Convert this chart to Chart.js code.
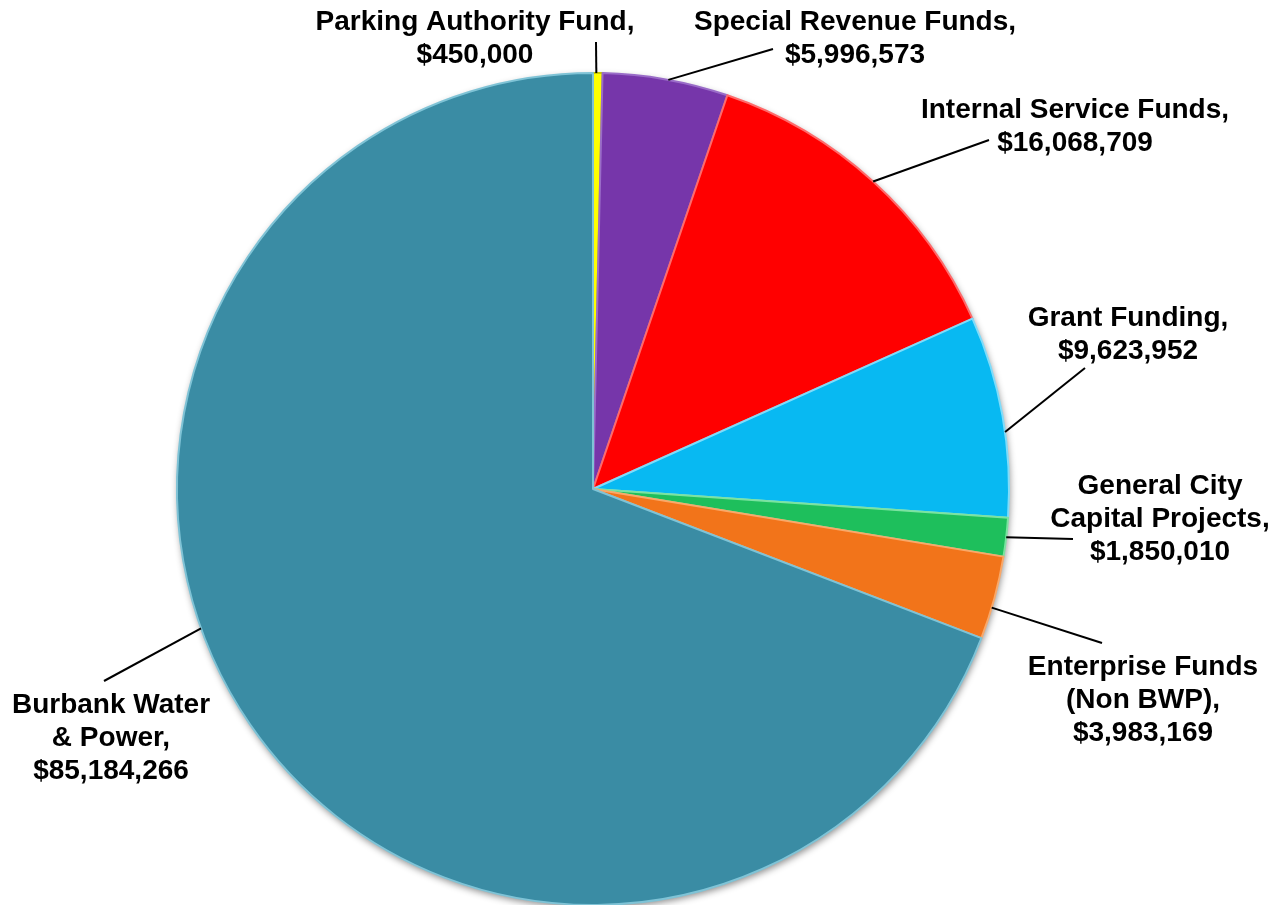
<!DOCTYPE html>
<html>

<head>
    <meta charset="utf-8">
    <script src="https://cdn.jsdelivr.net/npm/chart.js@4.4.7/dist/chart.umd.min.js"></script>
    <style>
        html, body { margin: 0; padding: 0; background: #fff; overflow: hidden; }
    </style>
</head>

<body>
    <canvas id="wykres" width="1277" height="910" style="display:block;width:1277px;height:910px;"></canvas>
    <script>
        // data
        const funds = ["Parking Authority Fund", "Special Revenue Funds", "Internal Service Funds",
            "Grant Funding", "General City Capital Projects", "Enterprise Funds (Non BWP)", "Burbank Water & Power"];
        const amounts = [450000, 5996573, 16068709, 9623952, 1850010, 3983169, 85184266];
        const nameLines = [["Parking Authority Fund,"], ["Special Revenue Funds,"], ["Internal Service Funds,"],
            ["Grant Funding,"], ["General City", "Capital Projects,"], ["Enterprise Funds", "(Non BWP),"],
            ["Burbank Water", "& Power,"]];

        const colors = ["#FFFF00", "#7636AA", "#FF0000", "#08B9F2", "#1EBF5C", "#F2741A", "#3A8CA4"];
        const edges = ["#C9C900", "#9A6CC8", "#FF6A6A", "#7FDCFA", "#7BE3A0", "#F9A869", "#7FC3D6"];

        // label layout: text centre x, middle of first line y, and where the leader line ends
        const labelPos = [[475, 22], [855, 22], [1075, 110], [1128, 318], [1160, 486], [1143, 667], [111, 705]];
        const lineEnds = [[596, 42], [773, 49], [989, 140], [1085, 368], [1073, 539], [1102, 643], [104, 681]];
        const leaderAt = [0.35, 0.52, 0.5, 0.58, 0.5, 0.62, 0.56];

        function money(v) {
            return "$" + v.toLocaleString("en-US");
        }

        const shadowPlugin = {
            id: "shadow",
            beforeDatasetsDraw(chart) {
                const arc = chart.getDatasetMeta(0).data[0];
                if (!arc) return;
                const ctx = chart.ctx;
                ctx.save();
                ctx.shadowColor = "rgba(0,0,0,0.45)";
                ctx.shadowBlur = 7;
                ctx.shadowOffsetX = 1;
                ctx.shadowOffsetY = 3;
                ctx.fillStyle = "#3A8CA4";
                ctx.beginPath();
                ctx.arc(arc.x, arc.y, arc.outerRadius, 0, Math.PI * 2);
                ctx.fill();
                ctx.restore();
            }
        };

        const labelPlugin = {
            id: "labels",
            afterDatasetsDraw(chart) {
                const ctx = chart.ctx;
                const arcs = chart.getDatasetMeta(0).data;
                ctx.save();
                ctx.strokeStyle = "#000";
                ctx.lineWidth = 2;
                arcs.forEach((arc, i) => {
                    const a = arc.startAngle + (arc.endAngle - arc.startAngle) * leaderAt[i];
                    const sx = arc.x + Math.cos(a) * arc.outerRadius;
                    const sy = arc.y + Math.sin(a) * arc.outerRadius;
                    ctx.beginPath();
                    ctx.moveTo(sx, sy);
                    ctx.lineTo(lineEnds[i][0], lineEnds[i][1]);
                    ctx.stroke();
                });
                ctx.fillStyle = "#000";
                ctx.font = "bold 28px 'Liberation Sans', Arial, sans-serif";
                ctx.textAlign = "center";
                ctx.textBaseline = "middle";
                nameLines.forEach((lines, i) => {
                    const all = lines.concat([money(amounts[i])]);
                    all.forEach((t, k) => {
                        ctx.fillText(t, labelPos[i][0], labelPos[i][1] + k * 33);
                    });
                });
                ctx.restore();
            }
        };

        const dane = {
            labels: funds,
            datasets: [{
                data: amounts,
                backgroundColor: colors,
                borderColor: edges,
                borderWidth: 2,
                borderJoinStyle: "round"
            }]
        };

        const ctx = document.getElementById("wykres").getContext("2d");
        const wykres = new Chart(ctx, {
            type: "pie",
            data: dane,
            options: {
                responsive: false,
                animation: false,
                devicePixelRatio: 1,
                layout: { padding: { left: 176, right: 267, top: 72, bottom: 4 } },
                plugins: {
                    legend: { display: false },
                    tooltip: { enabled: false }
                }
            },
            plugins: [shadowPlugin, labelPlugin]
        });
    </script>
</body>

</html>
